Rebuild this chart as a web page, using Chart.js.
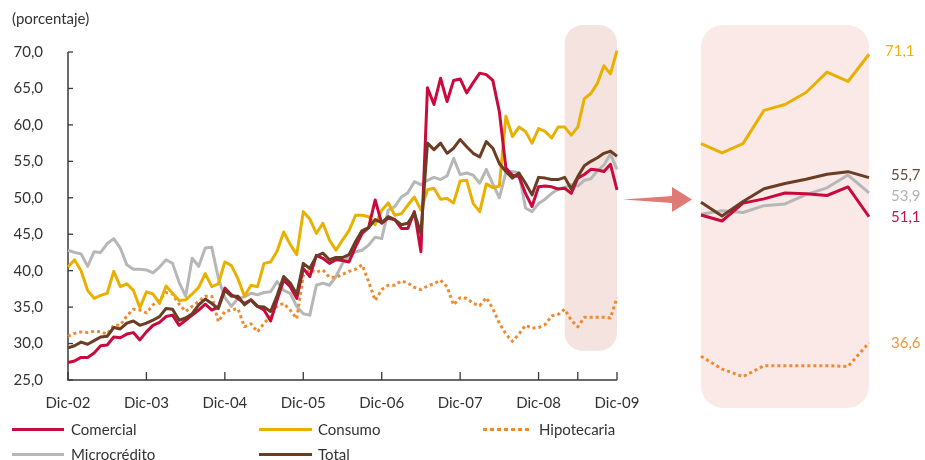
<!DOCTYPE html>
<html>
<head>
<meta charset="utf-8">
<script src="https://cdn.jsdelivr.net/npm/chart.js@4.4.1/dist/chart.umd.min.js"></script>
<style>
html,body{margin:0;padding:0;background:#fff;}
body{width:925px;height:460px;overflow:hidden;position:relative;font-family:Lato,"Open Sans",sans-serif;color:#333;}
#main{position:absolute;left:0;top:0;}
#inset{position:absolute;left:690px;top:0;}
#unit{position:absolute;left:12px;top:8px;font-size:15px;line-height:20px;color:#333;}
.lg{position:absolute;height:20px;font-size:15px;line-height:20px;white-space:nowrap;color:#333;}
.lg .sw{position:absolute;left:0;top:8.5px;height:3px;}
.lg .tx{position:absolute;top:0;}
</style>
</head>
<body>
<canvas id="main" width="700" height="420"></canvas>
<canvas id="inset" width="235" height="460"></canvas>
<div id="unit">(porcentaje)</div>
<div id="legend"></div>
<script>
// ---------- DATA ----------
const monthNames = ['Ene','Feb','Mar','Abr','May','Jun','Jul','Ago','Sep','Oct','Nov','Dic'];
const categories = [];
for (let k = 0; k < 85; k++) { const t = 11 + k; categories.push(monthNames[t % 12] + '-' + String(2 + Math.floor(t / 12)).padStart(2, '0')); }
const tickLabels = ['Dic-02','Dic-03','Dic-04','Dic-05','Dic-06','Dic-07','Dic-08','Dic-09'];
const extraTicks = ['Jun-09'];
const yTicks = [25,30,35,40,45,50,55,60,65,70];
const zoomFrom = 'Abr-09';

const comercial = [27.4,27.6,28.1,28.1,28.7,29.7,29.8,30.9,30.8,31.3,31.5,30.5,31.6,32.5,32.9,33.7,33.9,32.5,33.2,33.9,34.6,35.4,34.6,35.0,
 37.6,36.7,36.2,35.5,36.0,35.1,34.6,33.1,36.0,38.7,37.8,36.2,40.3,39.2,42.1,41.7,41.0,41.5,41.4,41.2,
 43.3,45.1,45.9,49.7,46.5,47.2,47.0,45.8,45.8,48.1,42.6,65.1,62.8,66.4,63.2,66.1,66.3,64.4,65.8,67.1,66.9,66.1,
 61.8,54.1,53.1,52.9,50.6,48.8,51.5,51.6,51.5,51.2,51.3,50.6,52.7,53.2,53.9,53.8,53.6,54.6,51.1];
const consumo = [40.5,41.5,40.0,37.3,36.2,36.6,36.9,39.9,37.8,38.2,37.3,34.9,37.1,36.8,35.5,37.9,36.9,35.9,36.0,36.8,37.7,39.6,37.8,38.2,
 41.2,40.7,38.9,36.5,38.0,37.8,41.0,41.2,42.7,45.3,43.6,42.2,48.1,47.1,45.1,46.5,44.2,42.8,44.2,45.5,
 47.6,47.6,47.4,46.3,48.3,49.3,47.6,47.8,49.0,50.1,48.3,51.1,51.3,49.8,49.9,49.3,52.3,52.4,49.2,48.1,51.9,51.4,
 51.6,61.2,58.4,59.7,59.1,57.5,59.5,59.1,58.2,59.7,59.7,58.6,59.7,63.6,64.3,65.7,68.1,67.0,70.2];
const hipotecaria = [31.0,31.4,31.6,31.5,31.7,31.6,31.3,32.5,32.5,33.8,34.7,34.6,34.2,35.3,36.0,37.0,36.8,35.4,34.4,35.1,35.8,36.5,36.5,33.0,
 34.4,34.6,34.8,32.3,32.7,31.6,32.8,33.7,35.2,35.5,34.6,33.4,39.4,40.1,39.8,40.1,39.1,39.1,39.5,39.9,
 40.2,40.8,38.5,35.9,37.4,38.0,38.0,38.6,38.3,37.7,37.4,37.9,38.2,38.7,37.8,35.3,36.3,36.2,35.5,35.2,36.3,34.8,
 32.8,31.3,30.3,31.3,32.5,32.1,32.2,32.6,33.8,34.0,34.7,33.2,32.3,33.6,33.6,33.6,33.6,33.5,36.3];
const microcredito = [42.8,42.5,42.3,40.6,42.6,42.5,43.7,44.4,43.1,40.8,40.2,40.2,40.1,39.7,40.5,41.5,41.0,38.4,36.5,41.7,40.6,43.1,43.2,39.0,
 36.3,35.1,36.2,36.4,36.9,36.7,37.0,37.1,38.5,37.3,36.9,35.1,34.1,33.9,38.0,38.3,38.0,39.2,41.0,42.0,
 42.6,42.8,43.5,44.6,44.4,48.3,48.8,50.1,50.7,52.2,51.8,52.4,52.8,52.5,53.0,55.4,53.2,53.4,53.1,52.0,53.9,51.9,
 50.0,53.5,53.6,53.4,48.6,48.1,49.2,49.8,50.6,51.2,51.4,51.8,51.6,52.4,52.6,53.7,54.5,56.0,53.9];
const total = [29.4,29.7,30.2,29.9,30.4,30.9,31.0,32.2,32.0,32.8,33.1,32.5,32.8,33.2,33.7,34.8,34.7,33.2,33.5,34.1,35.3,36.1,35.5,34.8,
 37.3,36.5,36.5,35.3,36.0,35.1,35.0,34.4,36.6,39.2,38.3,36.8,41.0,40.3,42.0,42.4,41.5,41.8,41.8,42.2,
 44.0,45.5,45.9,47.0,46.6,47.4,47.0,46.3,46.5,47.9,45.1,57.5,56.6,57.5,56.1,56.8,58.0,57.0,56.1,55.6,57.7,56.8,
 54.7,53.6,52.7,53.4,52.0,50.4,52.8,52.7,52.5,52.5,52.8,51.2,52.9,54.4,55.0,55.5,56.1,56.4,55.7];

const seriesNames = ['Comercial','Consumo','Hipotecaria','Microcrédito','Total'];
const seriesValues = [comercial, consumo, hipotecaria, microcredito, total];
const seriesColors = ['#c90a3e','#e9b000','#ef8a2e','#b7b7b7','#6b3d24'];
const labelColors = ['#cc1150','#f0b400','#f0963c','#b4b4b4','#6b4a3a'];
const seriesDash = [[],[],[3,3],[],[]];
const seriesOrder = [1,2,3,4,0];
const endLabels = ['51,1','71,1','36,6','53,9','55,7'];

// ---------- helpers ----------
Chart.defaults.font.family = 'Lato, "Open Sans", sans-serif';
Chart.defaults.font.size = 15;
Chart.defaults.color = '#333';

function rr(ctx, x, y, w, h, r) {
  ctx.beginPath();
  ctx.moveTo(x + r, y);
  ctx.lineTo(x + w - r, y); ctx.arcTo(x + w, y, x + w, y + r, r);
  ctx.lineTo(x + w, y + h - r); ctx.arcTo(x + w, y + h, x + w - r, y + h, r);
  ctx.lineTo(x + r, y + h); ctx.arcTo(x, y + h, x, y + h - r, r);
  ctx.lineTo(x, y + r); ctx.arcTo(x, y, x + r, y, r);
  ctx.closePath();
}

const zoomIdx = categories.indexOf(zoomFrom);

function makeDatasets(slice) {
  return seriesNames.map((n, i) => ({
    label: n,
    data: slice ? seriesValues[i].slice(zoomIdx) : seriesValues[i],
    borderColor: seriesColors[i],
    backgroundColor: seriesColors[i],
    borderWidth: 3,
    borderDash: seriesDash[i],
    borderCapStyle: 'butt',
    borderJoinStyle: 'round',
    pointRadius: 0,
    tension: 0,
    fill: false,
    order: seriesOrder[i],
    clip: false
  }));
}

// ---------- main chart ----------
const mainDecor = {
  id: 'mainDecor',
  beforeDatasetsDraw(chart) {
    const {ctx, scales: {x, y}, chartArea: a} = chart;
    const x0 = x.getPixelForValue(zoomIdx), x1 = x.getPixelForValue(categories.length - 1);
    const y0 = y.getPixelForValue(73.7), y1 = y.getPixelForValue(29.0);
    ctx.save();
    ctx.fillStyle = '#f4e3df';
    rr(ctx, x0, y0, x1 - x0, y1 - y0, 18);
    ctx.fill();
    ctx.strokeStyle = '#3a3a3a';
    ctx.lineWidth = 1.5;
    ctx.beginPath();
    ctx.moveTo(a.left, a.top); ctx.lineTo(a.left, a.bottom); ctx.lineTo(a.right, a.bottom);
    ctx.stroke();
    ctx.lineWidth = 1.3;
    yTicks.forEach(v => {
      const py = y.getPixelForValue(v);
      ctx.beginPath(); ctx.moveTo(a.left, py); ctx.lineTo(a.left + 5, py); ctx.stroke();
    });
    tickLabels.concat(extraTicks).forEach(l => {
      const px = x.getPixelForValue(categories.indexOf(l));
      ctx.beginPath(); ctx.moveTo(px, a.bottom); ctx.lineTo(px, a.bottom - 8); ctx.stroke();
    });
    ctx.restore();
  },
  afterDraw(chart) {
    const {ctx, chartArea: a} = chart;
    const sx = a.right + 6, cy = 199.5;
    ctx.save();
    ctx.fillStyle = '#e07a74';
    ctx.beginPath();
    ctx.moveTo(sx, cy);
    ctx.lineTo(sx + 49, cy - 3.5);
    ctx.lineTo(sx + 49, cy - 12.5);
    ctx.lineTo(sx + 69, cy);
    ctx.lineTo(sx + 49, cy + 12.5);
    ctx.lineTo(sx + 49, cy + 3.5);
    ctx.closePath();
    ctx.fill();
    ctx.restore();
  }
};

new Chart(document.getElementById('main'), {
  type: 'line',
  data: { labels: categories, datasets: makeDatasets(false) },
  options: {
    responsive: false,
    animation: false,
    devicePixelRatio: 1,
    layout: { padding: { left: 0, top: 52, right: 83, bottom: 0 } },
    plugins: { legend: { display: false }, tooltip: { enabled: false } },
    scales: {
      x: {
        type: 'category',
        grid: { display: false, drawTicks: false },
        border: { display: false },
        ticks: {
          autoSkip: false, maxRotation: 0, minRotation: 0, padding: 14, color: '#333',
          font: { size: 15 },
          callback: function(v, i) { const l = categories[i]; return tickLabels.includes(l) ? l : null; }
        },
        afterFit: s => { s.height = 40; }
      },
      y: {
        min: 25, max: 70,
        grid: { display: false, drawTicks: false },
        border: { display: false },
        ticks: {
          stepSize: 5, padding: 25, color: '#333', font: { size: 15 },
          callback: v => v.toFixed(1).replace('.', ',')
        },
        afterFit: s => { s.width = 68; }
      }
    }
  },
  plugins: [mainDecor]
});

// ---------- inset chart ----------
const insetDecor = {
  id: 'insetDecor',
  beforeDatasetsDraw(chart) {
    const {ctx, chartArea: a} = chart;
    ctx.save();
    ctx.fillStyle = '#fae9e7';
    rr(ctx, a.left, a.top, a.right - a.left, a.bottom - a.top, 22);
    ctx.fill();
    ctx.restore();
  },
  afterDatasetsDraw(chart) {
    const {ctx, chartArea: a} = chart;
    const items = chart.data.datasets.map((d, i) => {
      const pts = chart.getDatasetMeta(i).data;
      return { i, y: pts[pts.length - 1].y };
    }).sort((p, q) => p.y - q.y);
    const gap = 21;
    for (let k = 1; k < items.length; k++) {
      const d = items[k].y - items[k - 1].y;
      if (d < gap) { const s = (gap - d) / 2; items[k - 1].y -= s; items[k].y += s; }
    }
    ctx.save();
    ctx.font = '15px Lato, "Open Sans", sans-serif';
    ctx.textBaseline = 'middle';
    ctx.textAlign = 'left';
    items.forEach(it => {
      ctx.fillStyle = labelColors[it.i];
      const dx = endLabels[it.i] === '71,1' ? 16 : 22;
      ctx.fillText(endLabels[it.i], a.right + dx, it.y - (it.i === 1 ? 3 : 0));
    });
    ctx.restore();
  }
};

new Chart(document.getElementById('inset'), {
  type: 'line',
  data: { labels: categories.slice(zoomIdx), datasets: makeDatasets(true) },
  options: {
    responsive: false,
    animation: false,
    devicePixelRatio: 1,
    layout: { padding: { left: 11, top: 25, right: 56, bottom: 52 } },
    plugins: { legend: { display: false }, tooltip: { enabled: false } },
    scales: {
      x: { type: 'category', display: false },
      y: { display: false, min: 28.62, max: 73.64 }
    }
  },
  plugins: [insetDecor]
});

// ---------- legend ----------
const legendPos = [
  {lx: 12, tx: 71, cy: 429, w: 52},
  {lx: 259, tx: 318, cy: 429, w: 53},
  {lx: 483, tx: 539, cy: 429, w: 48},
  {lx: 12, tx: 71, cy: 454, w: 52},
  {lx: 259, tx: 318, cy: 454, w: 53}
];
const lg = document.getElementById('legend');
seriesNames.forEach((n, i) => {
  const p = legendPos[i];
  const d = document.createElement('div');
  d.className = 'lg';
  d.style.left = p.lx + 'px';
  d.style.top = (p.cy - 10) + 'px';
  const sw = document.createElement('div');
  sw.className = 'sw';
  sw.style.width = p.w + 'px';
  if (seriesDash[i].length) {
    sw.style.background = `repeating-linear-gradient(90deg, ${seriesColors[i]} 0 3.5px, transparent 3.5px 7px)`;
  } else {
    sw.style.background = seriesColors[i];
  }
  const t = document.createElement('span');
  t.className = 'tx';
  t.style.left = (p.tx - p.lx) + 'px';
  t.textContent = n;
  d.appendChild(sw); d.appendChild(t);
  lg.appendChild(d);
});
</script>
</body>
</html>
